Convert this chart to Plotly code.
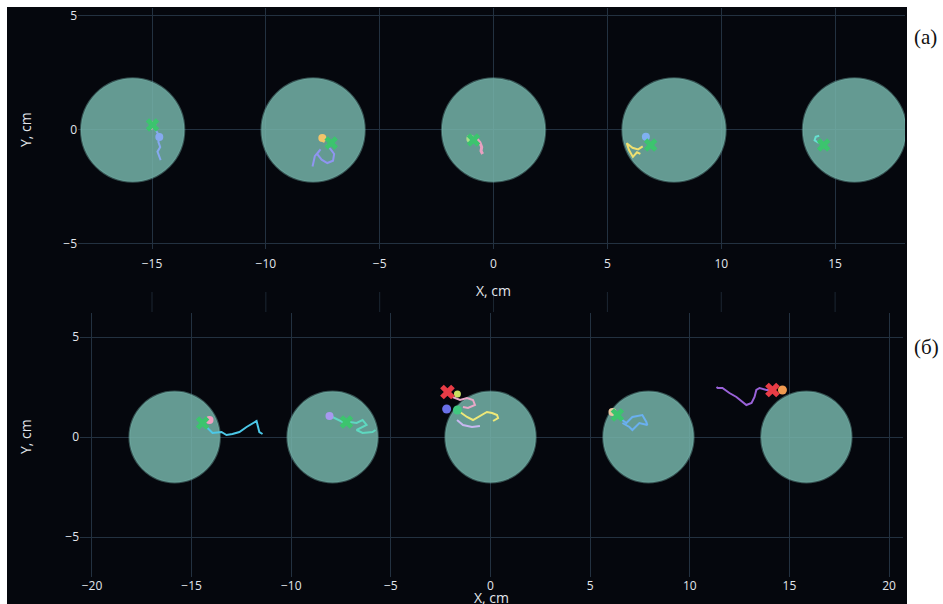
import plotly.graph_objects as go

# ---- arena layout (cm) ----
circle_cx = [-15.85, -7.925, 0.0, 7.925, 15.85]
circle_cy = 0.0
circle_r = 2.27

top_xticks = [-15, -10, -5, 0, 5, 10, 15]
bot_xticks = [-20, -15, -10, -5, 0, 5, 10, 15, 20]
yticks = [-5, 0, 5]

# ---- panel (а): tracks ----
a1_path_x = [-14.92, -14.78, -14.66, -14.72, -14.64, -14.76, -14.70, -14.62]
a1_path_y = [0.12, -0.08, -0.28, -0.52, -0.75, -0.95, -1.15, -1.32]
a1_pink_x = [-15.05, -14.90, -14.85, -15.00]
a1_pink_y = [0.05, 0.10, 0.30, 0.35]
a1_blob = (-14.68, -0.31)
a1_end = (-14.98, 0.22)

a2_orange_x = [-7.60, -7.50, -7.45]
a2_orange_y = [-0.25, -0.40, -0.55]
a2_path_x = [-7.35, -7.15, -7.00, -7.05, -7.30, -7.55, -7.75, -7.60, -7.85, -7.95]
a2_path_y = [-0.65, -0.85, -1.05, -1.35, -1.45, -1.30, -1.05, -0.85, -1.15, -1.60]
a2_blob = (-7.52, -0.35)
a2_end = (-7.13, -0.57)

a3_path_x = [-0.72, -0.60, -0.52, -0.55, -0.48]
a3_path_y = [-0.40, -0.55, -0.75, -0.92, -1.05]
a3_blob = (-1.02, -0.38)
a3_end = (-0.88, -0.44)

a4_path_x = [6.55, 6.35, 6.10, 5.85, 5.95, 6.12, 6.30, 6.45]
a4_path_y = [-0.72, -0.85, -0.78, -0.58, -0.88, -1.18, -0.98, -1.05]
a4_blob = (6.69, -0.30)
a4_end = (6.90, -0.66)

a5_path_x = [14.30, 14.15, 14.10, 14.25, 14.45]
a5_path_y = [-0.25, -0.30, -0.45, -0.55, -0.50]
a5_end = (14.50, -0.66)

# ---- panel (б): tracks ----
b1_path_x = [-14.30, -14.10, -13.95, -13.50, -13.25, -12.95, -12.60, -12.24, -11.94, -11.74, -11.60, -11.44]
b1_path_y = [0.55, 0.35, 0.20, 0.25, 0.10, 0.15, 0.25, 0.50, 0.70, 0.80, 0.25, 0.15]
b1_blob = (-14.10, 0.85)
b1_end = (-14.45, 0.70)

b2_path_x = [-7.93, -7.43, -7.07, -6.72, -6.42, -6.22, -6.72, -6.42, -5.92, -5.77]
b2_path_y = [1.00, 0.75, 0.75, 0.70, 0.85, 0.60, 0.35, 0.20, 0.25, 0.35]
b2_blob = (-8.08, 1.05)
b2_end = (-7.23, 0.75)

b3_pink_x = [-1.90, -1.60, -1.53, -1.18, -0.88, -0.78, -1.13, -1.38]
b3_pink_y = [2.00, 1.88, 1.85, 1.95, 1.85, 1.60, 1.45, 1.50]
b3_yellow_x = [-1.53, -1.18, -0.88, -0.43, -0.18, 0.08, 0.33, 0.38, 0.13]
b3_yellow_y = [1.25, 1.00, 0.85, 1.10, 1.25, 1.20, 1.10, 0.95, 0.80]
b3_lav_x = [-1.68, -1.38, -0.93, -0.53]
b3_lav_y = [0.85, 0.60, 0.50, 0.55]
b3_dot = (-1.66, 2.15)
b3_blue = (-2.20, 1.40)
b3_green = (-1.66, 1.35)
b3_end = (-2.16, 2.25)

b4_path_x = [6.47, 6.82, 7.12, 7.62, 7.82, 7.87, 7.47, 7.12, 6.97, 6.62]
b4_path_y = [0.95, 0.70, 1.00, 1.10, 0.75, 0.60, 0.70, 0.35, 0.50, 0.70]
b4_blob = (6.12, 1.25)
b4_end = (6.37, 1.10)

b5_path_x = [11.34, 11.40, 11.64, 11.99, 12.34, 12.64, 12.84, 13.10, 13.25, 13.34, 13.50, 13.85, 14.15]
b5_path_y = [2.50, 2.45, 2.45, 2.20, 2.00, 1.75, 1.60, 1.70, 2.00, 2.35, 2.45, 2.35, 2.35]
b5_blob = (14.65, 2.35)
b5_end = (14.15, 2.35)

# ---- styling ----
W, H = 943, 604
BG = "#05070d"
GRID = "#233140"
TXT = "#e2e6ec"
FONT = "Open Sans, sans-serif"
CIRCLE_FILL = "rgba(116,178,169,0.86)"
GREEN_X = "#3cc46e"
RED_X = "#e83c46"


def px_x(p):
    return p / W


def px_y(p):
    return 1 - p / H


fig = go.Figure()


def path(x, y, color, xa, ya, width=2):
    fig.add_trace(go.Scatter(x=x, y=y, mode="lines", xaxis=xa, yaxis=ya,
                             line=dict(color=color, width=width),
                             hoverinfo="skip", showlegend=False))


def point(pt, color, xa, ya, symbol="circle", size=8):
    fig.add_trace(go.Scatter(x=[pt[0]], y=[pt[1]], mode="markers", xaxis=xa, yaxis=ya,
                             marker=dict(color=color, size=size, symbol=symbol,
                                         line=dict(width=0)),
                             hoverinfo="skip", showlegend=False))


# panel (а)
path(a1_path_x, a1_path_y, "#86a9f0", "x", "y")
path(a1_pink_x, a1_pink_y, "#f0a8c0", "x", "y")
point(a1_blob, "#86a9f0", "x", "y")
point(a1_end, GREEN_X, "x", "y", "x", 12)

path(a2_path_x, a2_path_y, "#8f95f0", "x", "y")
path(a2_orange_x, a2_orange_y, "#f2c46a", "x", "y")
point(a2_blob, "#f2c46a", "x", "y")
point(a2_end, GREEN_X, "x", "y", "x", 12)

path(a3_path_x, a3_path_y, "#e8a0c0", "x", "y", 3)
point(a3_blob, "#a8e08a", "x", "y")
point(a3_end, GREEN_X, "x", "y", "x", 12)

path(a4_path_x, a4_path_y, "#f0e070", "x", "y")
point(a4_blob, "#7fb0f0", "x", "y")
point(a4_end, GREEN_X, "x", "y", "x", 12)

path(a5_path_x, a5_path_y, "#66e0d0", "x", "y")
point(a5_end, GREEN_X, "x", "y", "x", 12)

# panel (б)
path(b1_path_x, b1_path_y, "#4cc8e8", "x2", "y2")
point(b1_blob, "#f0a0c0", "x2", "y2")
point(b1_end, GREEN_X, "x2", "y2", "x", 12)

path(b2_path_x, b2_path_y, "#5ed8c0", "x2", "y2")
point(b2_blob, "#a898f0", "x2", "y2")
point(b2_end, GREEN_X, "x2", "y2", "x", 12)

path(b3_pink_x, b3_pink_y, "#e8a8c8", "x2", "y2")
path(b3_lav_x, b3_lav_y, "#c8b8f0", "x2", "y2")
path(b3_yellow_x, b3_yellow_y, "#eee878", "x2", "y2")
point(b3_blue, "#6a70e8", "x2", "y2", size=9)
point(b3_green, "#40c880", "x2", "y2", size=9)
point(b3_dot, "#c8e060", "x2", "y2", size=7)
point(b3_end, RED_X, "x2", "y2", "x", 13)

path(b4_path_x, b4_path_y, "#6ab0f0", "x2", "y2")
point(b4_blob, "#e8c8a0", "x2", "y2")
point(b4_end, GREEN_X, "x2", "y2", "x", 12)

path(b5_path_x, b5_path_y, "#9a62d8", "x2", "y2")
point(b5_blob, "#f09a50", "x2", "y2", size=9)
point(b5_end, RED_X, "x2", "y2", "x", 13)

shapes = [
    # dark canvas behind both panels
    dict(type="rect", xref="paper", yref="paper", x0=px_x(7), x1=px_x(907),
         y0=0, y1=px_y(7), fillcolor=BG, line=dict(width=0), layer="below"),
]
# arena discs in both panels
for xa, ya in (("x", "y"), ("x2", "y2")):
    for cx in circle_cx:
        shapes.append(dict(type="circle", xref=xa, yref=ya,
                           x0=cx - circle_r, x1=cx + circle_r,
                           y0=circle_cy - circle_r, y1=circle_cy + circle_r,
                           fillcolor=CIRCLE_FILL,
                           line=dict(color="rgba(116,178,169,0.45)", width=2),
                           layer="between"))
# short grid stubs between the panels
for t in top_xticks:
    shapes.append(dict(type="line", xref="x", yref="paper", x0=t, x1=t,
                       y0=px_y(312), y1=px_y(292),
                       line=dict(color="#1c2733", width=1), layer="below"))

axis_common = dict(showgrid=True, gridcolor=GRID, gridwidth=1, zeroline=True,
                   zerolinecolor=GRID, zerolinewidth=1, showline=False,
                   tickfont=dict(family=FONT, size=12, color=TXT),
                   automargin=False, fixedrange=True)

fig.update_layout(
    width=W, height=H,
    margin=dict(l=0, r=0, t=0, b=0),
    paper_bgcolor="white",
    plot_bgcolor=BG,
    showlegend=False,
    shapes=shapes,
    xaxis=dict(domain=[px_x(78), px_x(905)], range=[-18.25, 18.07], anchor="y",
               tickvals=top_xticks, ticks="outside", ticklen=4, tickcolor=BG,
               **axis_common),
    yaxis=dict(domain=[px_y(249), px_y(8)], range=[-5.22, 5.35], anchor="x",
               tickvals=yticks, ticks="", **axis_common),
    xaxis2=dict(domain=[px_x(80), px_x(903)], range=[-20.6, 20.7], anchor="y2",
                tickvals=bot_xticks, ticks="", **axis_common),
    yaxis2=dict(domain=[px_y(577), px_y(313)], range=[-7.0, 6.2], anchor="x2",
                tickvals=yticks, ticks="", **axis_common),
    annotations=[
        dict(text="X, cm", xref="paper", yref="paper", x=px_x(493), y=px_y(290),
             xanchor="center", yanchor="middle", showarrow=False,
             font=dict(family=FONT, size=14, color=TXT)),
        dict(text="X, cm", xref="paper", yref="paper", x=px_x(491), y=px_y(586),
             xanchor="center", yanchor="top", showarrow=False,
             font=dict(family=FONT, size=14, color=TXT)),
        dict(text="Y, cm", xref="paper", yref="paper", x=px_x(25), y=px_y(130),
             xanchor="center", yanchor="middle", textangle=-90, showarrow=False,
             font=dict(family=FONT, size=14, color=TXT)),
        dict(text="Y, cm", xref="paper", yref="paper", x=px_x(25), y=px_y(437),
             xanchor="center", yanchor="middle", textangle=-90, showarrow=False,
             font=dict(family=FONT, size=14, color=TXT)),
        dict(text="(а)", xref="paper", yref="paper", x=px_x(912), y=px_y(37),
             xanchor="left", yanchor="middle", showarrow=False,
             font=dict(family="Liberation Serif, serif", size=21, color="#111")),
        dict(text="(б)", xref="paper", yref="paper", x=px_x(912), y=px_y(347),
             xanchor="left", yanchor="middle", showarrow=False,
             font=dict(family="Liberation Serif, serif", size=21, color="#111")),
    ],
)

fig.write_html("out.html")
